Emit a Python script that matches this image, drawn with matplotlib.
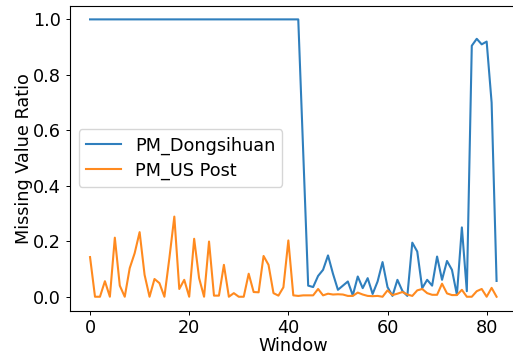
import matplotlib
matplotlib.use('Agg')
import matplotlib.pyplot as plt
import numpy as np

# missing value ratio per window
window = list(range(83))

pm_dongsihuan = [
    1.0, 1.0, 1.0, 1.0, 1.0, 1.0, 1.0, 1.0, 1.0, 1.0,
    1.0, 1.0, 1.0, 1.0, 1.0, 1.0, 1.0, 1.0, 1.0, 1.0,
    1.0, 1.0, 1.0, 1.0, 1.0, 1.0, 1.0, 1.0, 1.0, 1.0,
    1.0, 1.0, 1.0, 1.0, 1.0, 1.0, 1.0, 1.0, 1.0, 1.0,
    1.0, 1.0, 1.0, 0.52, 0.04, 0.035, 0.075, 0.097, 0.149, 0.083,
    0.025, 0.04, 0.055, 0.005, 0.073, 0.031, 0.067, 0.01, 0.055, 0.125,
    0.035, 0.003, 0.061, 0.021, 0.003, 0.195, 0.163, 0.031, 0.061, 0.04,
    0.145, 0.061, 0.129, 0.097, 0.007, 0.25, 0.02, 0.905, 0.93, 0.91,
    0.92, 0.70, 0.057,
]

pm_us_post = [
    0.143, 0.0, 0.0, 0.056, 0.0, 0.213, 0.040, 0.0, 0.103, 0.157,
    0.233, 0.079, 0.0, 0.064, 0.049, 0.0, 0.139, 0.289, 0.028, 0.061,
    0.0, 0.209, 0.067, 0.0, 0.199, 0.004, 0.004, 0.115, 0.0, 0.013,
    0.0, 0.0, 0.083, 0.017, 0.016, 0.147, 0.115, 0.013, 0.004, 0.034,
    0.203, 0.005, 0.003, 0.005, 0.005, 0.005, 0.028, 0.005, 0.011, 0.008,
    0.009, 0.008, 0.003, 0.003, 0.015, 0.008, 0.003, 0.002, 0.003, 0.0,
    0.023, 0.006, 0.011, 0.017, 0.008, 0.003, 0.023, 0.028, 0.013, 0.007,
    0.007, 0.047, 0.012, 0.006, 0.006, 0.025, 0.0, 0.0, 0.02, 0.028,
    0.0, 0.032, 0.0,
]

fs = 12.7
fig = plt.figure(figsize=(5.13, 3.56), dpi=100)
ax = fig.add_axes([0.1359, 0.1275, 0.8717, 0.857])

ax.plot(window, pm_dongsihuan, color='#2f7fbd', linewidth=1.5, label='PM_Dongsihuan')
ax.plot(window, pm_us_post, color='#ff8a1f', linewidth=1.5, label='PM_US Post')

ax.set_xlabel('Window', fontsize=fs, labelpad=0)
ax.set_ylabel('Missing Value Ratio', fontsize=fs, labelpad=0)
ax.set_xticks([0, 20, 40, 60, 80])
ax.set_yticks([0.0, 0.2, 0.4, 0.6, 0.8, 1.0])
ax.tick_params(labelsize=fs, length=2.8, width=0.7)
for s in ax.spines.values():
    s.set_linewidth(0.8)

ax.legend(loc='center left', fontsize=fs, handlelength=2.0, borderpad=0.4,
          labelspacing=0.4, borderaxespad=0.5)

fig.savefig('out.png', dpi=100)
